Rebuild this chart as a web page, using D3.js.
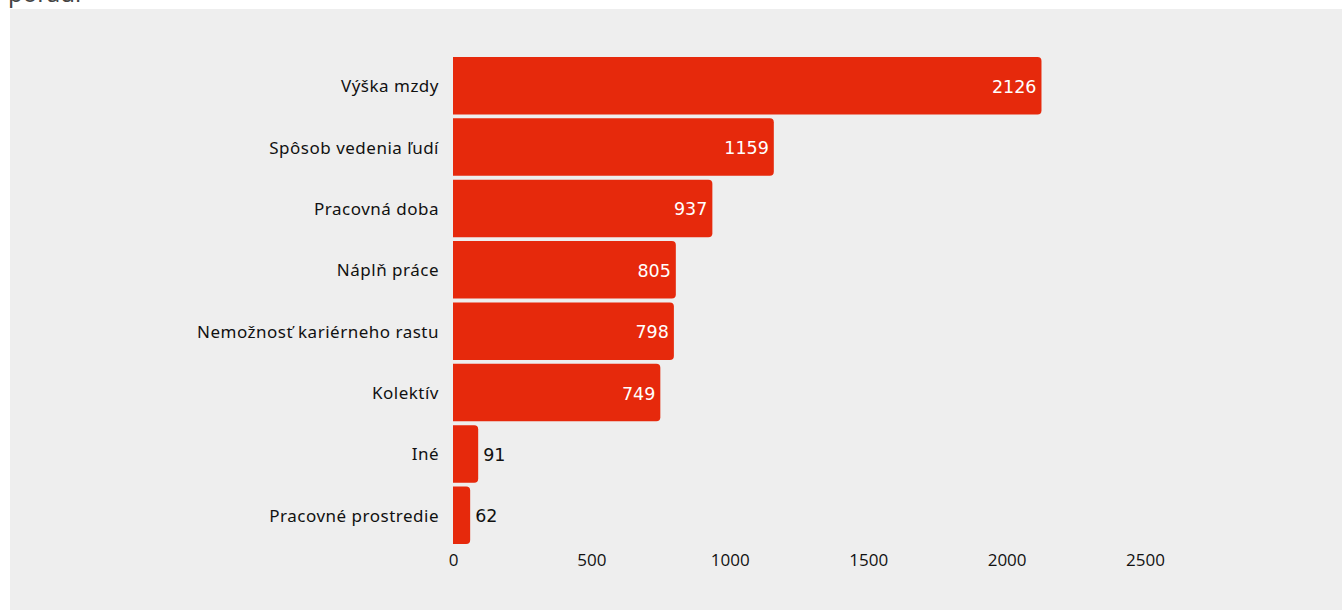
<!DOCTYPE html>
<html><head><meta charset="utf-8">
<script src="https://cdn.jsdelivr.net/npm/d3@7"></script>
<style>
html,body{margin:0;padding:0;background:#fff;}
svg{display:block;}
</style></head>
<body>
<script>
const categories = ["Výška mzdy","Spôsob vedenia ľudí","Pracovná doba","Náplň práce","Nemožnosť kariérneho rastu","Kolektív","Iné","Pracovné prostredie"];
const values = [2126,1159,937,805,798,749,91,62];
const ticks = [0,500,1000,1500,2000,2500];

const W=1342,H=610;
const svg=d3.select("body").append("svg").attr("width",W).attr("height",H);
svg.append("text").attr("x",8).attr("y",2).attr("font-family","Noto Sans, sans-serif").attr("font-size",24).attr("fill","#444").text("poradí");
svg.append("rect").attr("x",10).attr("y",9).attr("width",W-10).attr("height",H-9).attr("fill","#eeeeee");

const x=d3.scaleLinear().domain([0,2500]).range([453,1145]);
const y=d3.scaleBand().domain(categories).range([57,544]).paddingInner(0.065).paddingOuter(0);
const r=4;
const color="#e6290c";

const g=svg.append("g");
g.selectAll("path.bar").data(values).join("path").attr("class","bar")
 .attr("fill",color)
 .attr("d",(d,i)=>{
   const x0=x(0),x1=x(d),y0=y(categories[i]),h=y.bandwidth();
   const rr=Math.min(r,(x1-x0)/2);
   return `M${x0},${y0}H${x1-rr}Q${x1},${y0} ${x1},${y0+rr}V${y0+h-rr}Q${x1},${y0+h} ${x1-rr},${y0+h}H${x0}Z`;
 });

g.selectAll("text.val").data(values).join("text").attr("class","val")
 .attr("font-family","DejaVu Sans, sans-serif").attr("font-size",17.5)
 .attr("dominant-baseline","central")
 .attr("y",(d,i)=>y(categories[i])+y.bandwidth()/2+1)
 .attr("x",d=> d>300 ? x(d)-5 : x(d)+5)
 .attr("text-anchor",d=> d>300 ? "end":"start")
 .attr("fill",d=> d>300 ? "#fff":"#111")
 .text(d=>d);

g.selectAll("text.cat").data(categories).join("text").attr("class","cat")
 .attr("font-family","Noto Sans, sans-serif").attr("font-size",17)
 .attr("letter-spacing",0.5)
 .attr("dominant-baseline","central")
 .attr("x",439).attr("text-anchor","end")
 .attr("y",d=>y(d)+y.bandwidth()/2)
 .attr("fill","#111").text(d=>d);

const ax=svg.append("g").attr("transform","translate(0,544)")
 .call(d3.axisBottom(x).tickValues(ticks).tickFormat(d3.format("d")).tickSize(0).tickPadding(10));
ax.select(".domain").remove();
ax.selectAll("text").attr("font-family","Open Sans, sans-serif").attr("font-size",17).attr("fill","#111");
</script>
</body></html>
